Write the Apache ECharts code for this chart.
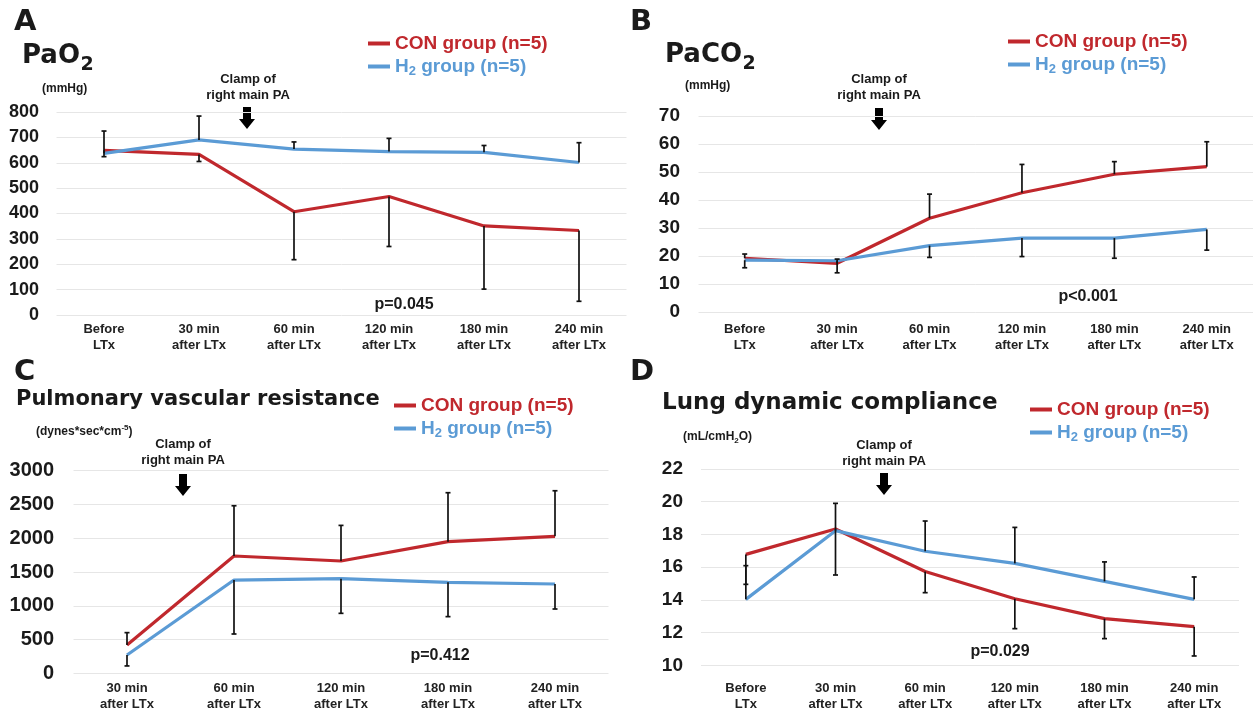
<!DOCTYPE html>
<html lang="en">
<head>
<meta charset="UTF-8">
<title>Blood gases and lung function after LTx</title>
<script src="https://cdn.jsdelivr.net/npm/echarts@6/dist/echarts.min.js"></script>
</head>
<body style="margin:0;background:#fff">
<div id="main" style="width:1253px;height:713px;"></div>
<script type="text/javascript">

var RED = '#C0282D', BLUE = '#5B9BD5', INK = '#1a1a1a';
var SANS = 'Liberation Sans', WIDE = 'DejaVu Sans';

var catsSix = ['Before\nLTx', '30 min\nafter LTx', '60 min\nafter LTx', '120 min\nafter LTx', '180 min\nafter LTx', '240 min\nafter LTx'];
var catsFive = ['30 min\nafter LTx', '60 min\nafter LTx', '120 min\nafter LTx', '180 min\nafter LTx', '240 min\nafter LTx'];

// A - PaO2 (mmHg); CON bars go down, H2 bars go up
var paoCon = [649, 633, 407, 467, 351, 333];
var paoConSd = [25, 28, 189, 197, 249, 279];
var paoH2 = [637, 690, 654, 644, 641, 601];
var paoH2Sd = [88, 94, 28, 52, 27, 78];

// B - PaCO2 (mmHg); CON up, H2 down
var pacoCon = [19.2, 17.4, 33.5, 42.6, 49.2, 51.9];
var pacoConSd = [1.5, 1.5, 8.6, 10.1, 4.5, 8.9];
var pacoH2 = [18.5, 18.3, 23.7, 26.4, 26.4, 29.5];
var pacoH2Sd = [2.7, 4.3, 4.2, 6.6, 7.2, 7.4];

// C - pulmonary vascular resistance; CON up, H2 down
var pvrCon = [419, 1737, 1663, 1949, 2028];
var pvrConSd = [183, 744, 527, 725, 675];
var pvrH2 = [271, 1381, 1401, 1347, 1322];
var pvrH2Sd = [162, 799, 513, 508, 370];

// D - lung dynamic compliance; CON down, H2 up
var cdynCon = [16.78, 18.33, 15.73, 14.07, 12.85, 12.36];
var cdynConSd = [1.83, 2.81, 1.29, 1.83, 1.22, 1.79];
var cdynH2 = [14.03, 18.23, 16.97, 16.23, 15.13, 14.03];
var cdynH2Sd = [2.06, 1.67, 1.85, 2.20, 1.19, 1.37];

var CON_NAME = 'CON group (n=5)', H2_NAME = 'H2 group (n=5)';

var myChart = echarts.init(document.getElementById('main'), null, {renderer: 'canvas'});
var measureCtx = document.createElement('canvas').getContext('2d');

function errData(mean, sd, dir) {
  return mean.map(function (m, i) { return [i, m, m + dir * sd[i]]; });
}

function renderErr(params, api) {
  var x = api.value(0);
  var p0 = api.coord([x, api.value(1)]);
  var p1 = api.coord([x, api.value(2)]);
  var st = {stroke: '#111', lineWidth: 1.7};
  return {
    type: 'group',
    children: [
      {type: 'line', shape: {x1: p0[0], y1: p0[1], x2: p1[0], y2: p1[1]}, style: st},
      {type: 'line', shape: {x1: p1[0] - 2.5, y1: p1[1], x2: p1[0] + 2.5, y2: p1[1]}, style: st}
    ]
  };
}

function lineSeries(name, color, idx, data) {
  return {
    name: name, type: 'line', xAxisIndex: idx, yAxisIndex: idx, data: data,
    symbol: 'none', z: 3, animation: false,
    lineStyle: {color: color, width: 3.2}, itemStyle: {color: color}
  };
}

function errSeries(idx, data) {
  return {
    type: 'custom', xAxisIndex: idx, yAxisIndex: idx, data: data, z: 4,
    renderItem: renderErr, encode: {x: 0, y: [1, 2]}, animation: false, silent: true
  };
}

function xAx(idx, cats, margin) {
  return {
    type: 'category', gridIndex: idx, data: cats, boundaryGap: true,
    axisLine: {show: false}, axisTick: {show: false},
    axisLabel: {interval: 0, margin: margin, fontFamily: SANS, fontWeight: 'bold', fontSize: 13, lineHeight: 16, color: '#222'}
  };
}

function yAx(idx, min, max, step, size, margin) {
  return {
    type: 'value', gridIndex: idx, min: min, max: max, interval: step,
    axisLine: {show: false}, axisTick: {show: false},
    splitLine: {lineStyle: {color: '#e6e6e6', width: 1}},
    axisLabel: {
      margin: margin, fontFamily: SANS, fontWeight: 'bold', fontSize: size, color: INK,
      formatter: function (v) { return String(v); }
    }
  };
}

var legendRich = {
  t: {fontFamily: SANS, fontWeight: 'bold', fontSize: 19, lineHeight: 22},
  s: {fontFamily: SANS, fontWeight: 'bold', fontSize: 13, lineHeight: 8, verticalAlign: 'bottom'}
};

function legendAt(left, top) {
  return {
    left: left, top: top, orient: 'vertical', itemGap: 4, itemWidth: 22, itemHeight: 4,
    icon: 'rect', selectedMode: false, padding: 0,
    textStyle: {rich: legendRich},
    formatter: function (name) {
      return name === H2_NAME ? '{t|H}{s|2}{t| group (n=5)}' : '{t|' + name + '}';
    },
    data: [
      {name: CON_NAME, textStyle: {color: RED}},
      {name: H2_NAME, textStyle: {color: BLUE}}
    ]
  };
}

function txt(x, y, text, size, opts) {
  opts = opts || {};
  return {
    type: 'text', x: x, y: y, silent: true,
    style: {
      text: text, fill: INK, fontFamily: opts.family || SANS, fontWeight: 'bold', fontSize: size,
      textAlign: opts.align || 'left', textVerticalAlign: 'middle', lineHeight: opts.lh, rich: opts.rich
    }
  };
}

// big title with a dropped subscript digit, placed after the measured main text
function subTitle(x, y, main, sub) {
  measureCtx.font = 'bold 26px "' + WIDE + '"';
  var w = measureCtx.measureText(main).width;
  return [txt(x, y, main, 26, {family: WIDE}), txt(x + w + 0.5, y + 9, sub, 19, {family: WIDE})];
}

function arrow(cx, top) {
  return {
    type: 'polygon', silent: true,
    shape: {points: [[cx - 4, top], [cx + 4, top], [cx + 4, top + 12], [cx + 8, top + 12], [cx, top + 22], [cx - 8, top + 12], [cx - 4, top + 12]]},
    style: {fill: '#000'}
  };
}

var unitRich = {
  u: {fontFamily: SANS, fontWeight: 'bold', fontSize: 12, lineHeight: 16},
  sb: {fontFamily: SANS, fontWeight: 'bold', fontSize: 8, lineHeight: 8, verticalAlign: 'bottom'},
  sp: {fontFamily: SANS, fontWeight: 'bold', fontSize: 8, lineHeight: 8, verticalAlign: 'top'}
};

var graphics = [
  // panel letters
  txt(14, 22.5, 'A', 29, {family: WIDE}),
  txt(630, 22.5, 'B', 29, {family: WIDE}),
  txt(14, 372, 'C', 29, {family: WIDE}),
  txt(630, 372, 'D', 29, {family: WIDE}),
  // titles
  txt(16, 399.5, 'Pulmonary vascular resistance', 21, {family: WIDE}),
  txt(662, 403.5, 'Lung dynamic compliance', 23, {family: WIDE}),
  // units
  txt(42, 89, '(mmHg)', 12),
  txt(685, 86, '(mmHg)', 12),
  txt(36, 432, '{u|(dynes*sec*cm}{sp|-5}{u|)}', 12, {rich: unitRich}),
  txt(683, 437, '{u|(mL/cmH}{sb|2}{u|O)}', 12, {rich: unitRich}),
  // clamp annotations
  txt(248, 87, 'Clamp of\nright main PA', 13, {align: 'center', lh: 16}),
  txt(879, 87.5, 'Clamp of\nright main PA', 13, {align: 'center', lh: 16}),
  txt(183, 452.5, 'Clamp of\nright main PA', 13, {align: 'center', lh: 16}),
  txt(884, 453, 'Clamp of\nright main PA', 13, {align: 'center', lh: 16}),
  arrow(247, 107), arrow(879, 108), arrow(183, 474), arrow(884, 473),
  // p values
  txt(404, 305, 'p=0.045', 16, {align: 'center'}),
  txt(1088, 297, 'p<0.001', 16, {align: 'center'}),
  txt(440, 656, 'p=0.412', 16, {align: 'center'}),
  txt(1000, 652, 'p=0.029', 16, {align: 'center'})
].concat(subTitle(22, 56, 'PaO', '2'), subTitle(665, 55, 'PaCO', '2'));

var option = {
  backgroundColor: '#fff',
  animation: false,
  grid: [
    {left: 56.5, top: 112, width: 570, height: 203},
    {left: 698.5, top: 116, width: 570, height: 196},
    {left: 73.5, top: 470.7, width: 535, height: 202.6},
    {left: 701, top: 469, width: 538, height: 196.3}
  ],
  xAxis: [xAx(0, catsSix, 6), xAx(1, catsSix, 9), xAx(2, catsFive, 7), xAx(3, catsSix, 15)],
  yAxis: [
    yAx(0, 0, 800, 100, 18, 17.5),
    yAx(1, 0, 70, 10, 19, 18.5),
    yAx(2, 0, 3000, 500, 20, 19.5),
    yAx(3, 10, 22, 2, 19, 18)
  ],
  legend: [legendAt(368, 34), legendAt(1008, 32), legendAt(394, 396), legendAt(1030, 400)],
  series: [
    lineSeries(CON_NAME, RED, 0, paoCon), lineSeries(H2_NAME, BLUE, 0, paoH2),
    errSeries(0, errData(paoCon, paoConSd, -1)), errSeries(0, errData(paoH2, paoH2Sd, 1)),
    lineSeries(CON_NAME, RED, 1, pacoCon), lineSeries(H2_NAME, BLUE, 1, pacoH2),
    errSeries(1, errData(pacoCon, pacoConSd, 1)), errSeries(1, errData(pacoH2, pacoH2Sd, -1)),
    lineSeries(CON_NAME, RED, 2, pvrCon), lineSeries(H2_NAME, BLUE, 2, pvrH2),
    errSeries(2, errData(pvrCon, pvrConSd, 1)), errSeries(2, errData(pvrH2, pvrH2Sd, -1)),
    lineSeries(CON_NAME, RED, 3, cdynCon), lineSeries(H2_NAME, BLUE, 3, cdynH2),
    errSeries(3, errData(cdynCon, cdynConSd, -1)), errSeries(3, errData(cdynH2, cdynH2Sd, 1))
  ],
  graphic: graphics
};

myChart.setOption(option);

</script>
</body>
</html>
